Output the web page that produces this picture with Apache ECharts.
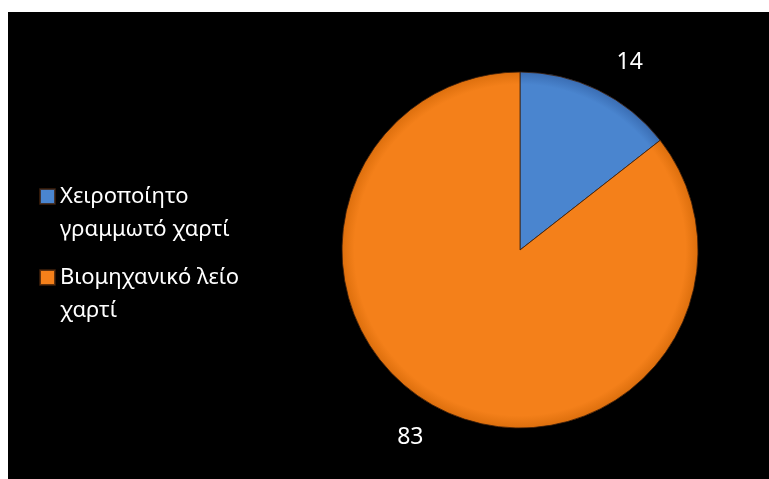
<!DOCTYPE html>
<html>
<head>
<meta charset="utf-8">
<script src="https://cdn.jsdelivr.net/npm/echarts@6/dist/echarts.min.js"></script>
<style>
  html, body { margin: 0; padding: 0; background: #fff; }
  #chart { position: absolute; left: 8px; top: 12px; width: 761px; height: 467px; background: #000; }
</style>
</head>
<body>
<div id="chart"></div>
<script>
// data
var categories = ["Χειροποίητο γραμμωτό χαρτί", "Βιομηχανικό λείο χαρτί"];
var legendLines = ["Χειροποίητο\nγραμμωτό χαρτί", "Βιομηχανικό λείο\nχαρτί"];
var values = [14, 83];
var colors = ["#4a85cf", "#f4801a"];
var edgeColors = ["#3a6db3", "#dd6f0d"];

var pieCenter = [512, 238];
var pieRadius = 178;

var myChart = echarts.init(document.getElementById("chart"));

var pieData = [];
categories.forEach(function (name, i) {
  pieData.push({
    name: name,
    value: values[i],
    itemStyle: {
      // global gradient so the rim shading follows the whole pie
      color: new echarts.graphic.RadialGradient(pieCenter[0], pieCenter[1], pieRadius, [
        { offset: 0, color: colors[i] },
        { offset: 0.93, color: colors[i] },
        { offset: 1, color: edgeColors[i] },
      ], true),
    },
  });
});

var option = {
  backgroundColor: "#000",
  animation: false,
  legend: {
    orient: "vertical",
    left: 26,
    top: 130,
    itemWidth: 15,
    itemHeight: 15,
    itemGap: -18,
    icon: "rect",
    data: categories.map(function (name, i) {
      return { name: name, itemStyle: { color: colors[i] } };
    }),
    formatter: function (name) {
      // empty first line keeps the square beside the first text line
      return "\n" + legendLines[categories.indexOf(name)];
    },
    textStyle: {
      color: "#fff",
      fontFamily: "Noto Sans",
      fontSize: 22,
      lineHeight: 33,
    },
  },
  series: [
    {
      type: "pie",
      center: pieCenter,
      radius: pieRadius,
      startAngle: 90,
      clockwise: true,
      data: pieData,
      itemStyle: {
        borderColor: "rgba(60,30,10,0.8)",
        borderWidth: 1,
      },
      label: {
        show: true,
        position: "outside",
        formatter: "{c}",
        color: "#fff",
        fontFamily: "Noto Sans",
        fontSize: 23,
      },
      labelLine: {
        show: false,
        length: 31,
        length2: 0,
      },
      emphasis: { disabled: true },
    },
  ],
};

myChart.setOption(option);
</script>
</body>
</html>
